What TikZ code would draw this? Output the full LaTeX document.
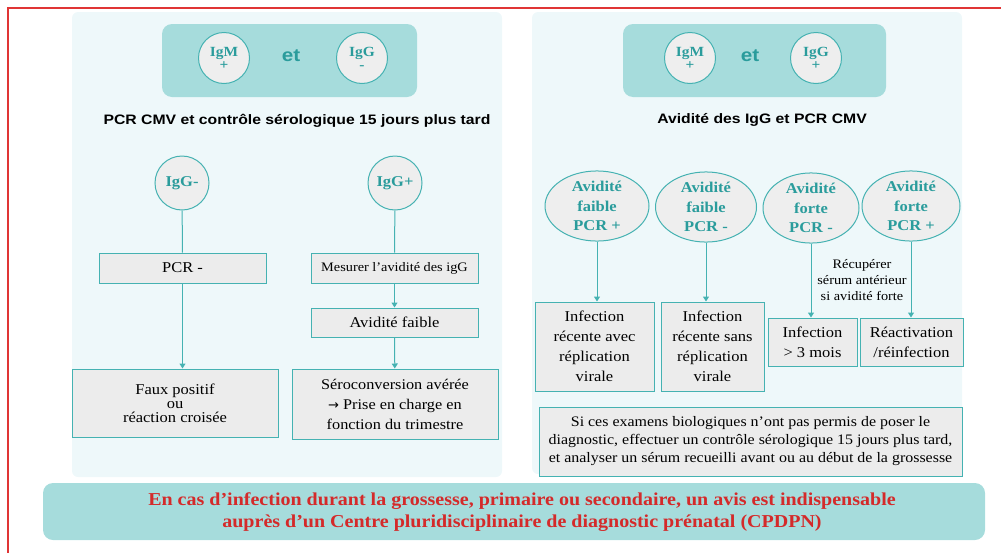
\documentclass[tikz,border=0pt]{standalone}
\usepackage{fontspec}
\setmainfont{Liberation Serif}[FakeStretch=1.1]
\newfontfamily\titlefont{Liberation Sans}[FakeStretch=1.15]
\newfontfamily\arrowfont{DejaVu Sans}
\usetikzlibrary{arrows.meta,shapes.geometric}
\definecolor{tealline}{HTML}{45B2B2}
\definecolor{tealtext}{HTML}{2A9C9C}
\definecolor{tealbox}{HTML}{A6DCDC}
\definecolor{panelbg}{HTML}{EEF8FA}
\definecolor{boxfill}{HTML}{ECECEC}
\definecolor{circfill}{HTML}{EEEEEE}
\definecolor{frame}{HTML}{E03535}
\definecolor{redtext}{HTML}{D42A2A}
\tikzset{
  panel/.style={fill=panelbg, draw=none, rounded corners=6pt},
  tealpanel/.style={fill=tealbox, draw=none, rounded corners=10pt},
  igcirc/.style={circle, draw=tealline, line width=1pt, fill=circfill, minimum size=51pt, inner sep=0pt, align=center, text=tealtext, font=\fontsize{14}{13}\selectfont\bfseries},
  ellnode/.style={ellipse, draw=tealline, line width=1pt, fill=circfill, inner sep=0pt, align=center, text=tealtext, font=\fontsize{15}{19.5}\selectfont\bfseries},
  gbox/.style={rectangle, draw=tealline, line width=1pt, fill=boxfill, inner sep=0pt, align=center, font=\fontsize{15}{20}\selectfont},
  conn/.style={draw=tealline, line width=1pt},
  arr/.style={conn, -{Triangle[width=6pt,length=5pt]}},
}
\begin{document}
\begin{tikzpicture}[x=1pt,y=-1pt]
\useasboundingbox (0,0) rectangle (1001,552);
% red frame
\draw[frame, line width=1.6pt] (8,560) -- (8,8) -- (1010,8);
% panels
\fill[panel] (72,12) rectangle (502,477);
\fill[panel] (532,12) rectangle (962,474);
\fill[tealpanel] (162,24) rectangle (417,97);
\fill[tealpanel] (623,24) rectangle (886,97);
% ---- left ----
\node[igcirc] (igmL) at (224,58) {IgM\\+};
\node[text=tealtext, font=\titlefont\fontsize{18}{18}\selectfont\bfseries] (etL) at (291,56) {et};
\node[igcirc] (iggL) at (362,58) {IgG\\-};
\node[font=\titlefont\fontsize{13.7}{14}\selectfont\bfseries] (titleL) at (297,121) {PCR CMV et contrôle sérologique 15 jours plus tard};
\node[igcirc, minimum size=54pt, font=\fontsize{15}{15}\selectfont\bfseries] (iggm) at (182,183) {IgG-};
\node[igcirc, minimum size=54pt, font=\fontsize{15}{15}\selectfont\bfseries] (iggp) at (395,183) {IgG+};
\node[gbox, minimum width=167pt, minimum height=30pt] (pcrm) at (182.5,268) {PCR -};
\node[gbox, minimum width=206pt, minimum height=68pt, font=\fontsize{15}{14}\selectfont] (faux) at (175,403) {Faux positif\\ou\\réaction croisée};
\node[gbox, minimum width=167pt, minimum height=30pt, font=\fontsize{13}{15}\selectfont] (mes) at (394.5,268) {Mesurer l’avidité des igG};
\node[gbox, minimum width=167pt, minimum height=29pt] (avf) at (394.5,322.5) {Avidité faible};
\node[gbox, minimum width=206pt, minimum height=70pt, font=\fontsize{14.8}{20}\selectfont] (sero) at (395,404) {Séroconversion avérée\\{\arrowfont\fontsize{13}{20}\selectfont →} Prise en charge en\\fonction du trimestre};
\draw[conn] (iggm) -- (pcrm);
\draw[arr] (pcrm.south) -- (pcrm.south |- faux.north);
\draw[conn] (iggp) -- (mes);
\draw[arr] (mes) -- (avf);
\draw[arr] (avf) -- (sero);
% ---- right ----
\node[igcirc] (igmR) at (690,58) {IgM\\+};
\node[text=tealtext, font=\titlefont\fontsize{18}{18}\selectfont\bfseries] (etR) at (750,56) {et};
\node[igcirc] (iggR) at (816,58) {IgG\\+};
\node[font=\titlefont\fontsize{13.7}{14}\selectfont\bfseries] (titleR) at (762,120) {Avidité des IgG et PCR CMV};
\node[ellnode, minimum width=104pt, minimum height=70pt] (e1) at (597,206) {Avidité\\faible\\PCR +};
\node[ellnode, minimum width=101pt, minimum height=70pt] (e2) at (706,207) {Avidité\\faible\\PCR -};
\node[ellnode, minimum width=96pt, minimum height=70pt] (e3) at (811,208) {Avidité\\forte\\PCR -};
\node[ellnode, minimum width=98pt, minimum height=70pt] (e4) at (911,206) {Avidité\\forte\\PCR +};
\node[gbox, minimum width=119pt, minimum height=89pt] (b1) at (594.5,346.5) {Infection\\récente avec\\réplication\\virale};
\node[gbox, minimum width=103pt, minimum height=89pt] (b2) at (712.5,346.5) {Infection\\récente sans\\réplication\\virale};
\node[gbox, minimum width=89pt, minimum height=48pt] (b3) at (812.5,342) {Infection\\> 3 mois};
\node[gbox, minimum width=103pt, minimum height=48pt] (b4) at (911.5,342) {Réactivation\\/réinfection};
\draw[arr] (e1.south) -- (e1.south |- b1.north);
\draw[arr] (e2.south) -- (e2.south |- b2.north);
\draw[arr] (e3.south) -- (e3.south |- b3.north);
\draw[arr] (e4.south) -- (e4.south |- b4.north);
\node[align=center, font=\fontsize{13}{16}\selectfont] (recup) at (862,280) {Récupérer\\sérum antérieur\\si avidité forte};
\node[gbox, minimum width=423pt, minimum height=69pt, font=\fontsize{14.5}{18}\selectfont] (note) at (750.5,441.5) {Si ces examens biologiques n’ont pas permis de poser le\\diagnostic, effectuer un contrôle sérologique 15 jours plus tard,\\et analyser un sérum recueilli avant ou au début de la grossesse};
% ---- banner ----
\fill[tealpanel] (43,483) rectangle (985,540);
\node[align=center, text=redtext, font=\fontsize{18.2}{22}\selectfont\bfseries] (banner) at (522,512) {En cas d’infection durant la grossesse, primaire ou secondaire, un avis est indispensable\\auprès d’un Centre pluridisciplinaire de diagnostic prénatal (CPDPN)};
\end{tikzpicture}
\end{document}
